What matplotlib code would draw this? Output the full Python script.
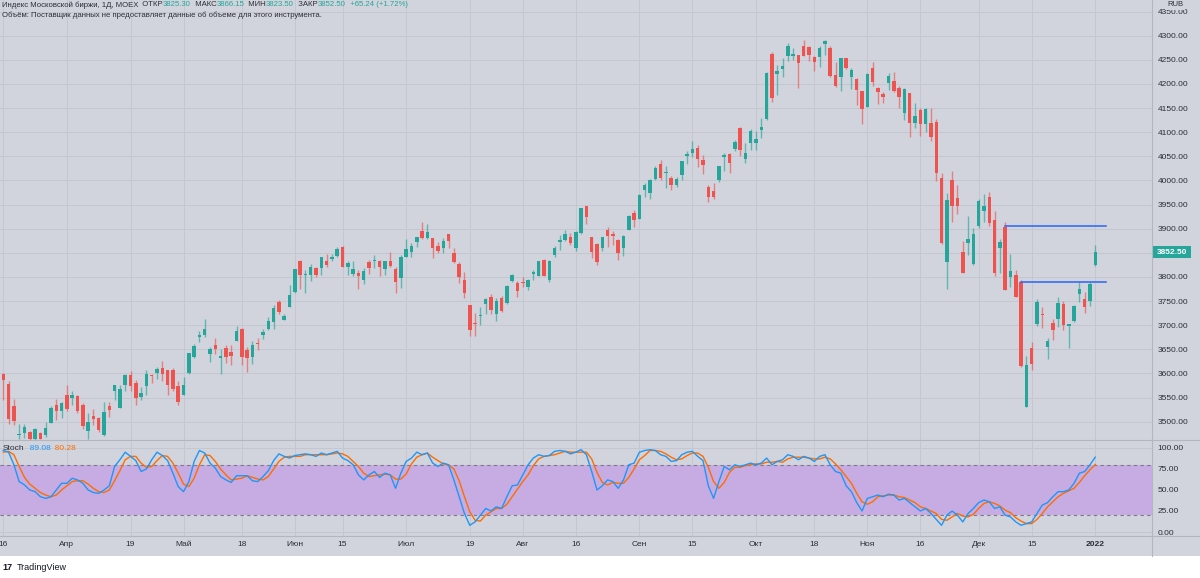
import matplotlib
matplotlib.use("Agg")
import matplotlib.pyplot as plt
from matplotlib.patches import Rectangle
from matplotlib.lines import Line2D
import numpy as np
import pandas as pd

plt.rcParams['font.family'] = ['Liberation Sans', 'DejaVu Sans']

W, H = 1200, 578
BG = '#d1d4dc'
UP = '#26a69a'
DN = '#ef5350'
TXT = '#2a2e39'
GRID = '#c4c7cf'
SEP = '#b3b6be'
K_COL = '#2196f3'
D_COL = '#ff6d00'

# MOEX trading days, 16 Mar 2021 - 3 Jan 2022
days = pd.bdate_range('2021-03-16', '2022-01-03')
closed = pd.to_datetime(['2021-06-14', '2021-11-04', '2021-12-31'])
days = days[~days.isin(closed)]

opens = [3599, 3578, 3532, 3472, 3477, 3479, 3464, 3476, 3472, 3498,
         3535, 3523, 3555, 3550, 3553, 3534, 3481, 3512, 3508, 3472,
         3533, 3564, 3529, 3576, 3597, 3580, 3551, 3574, 3597, 3600,
         3612, 3607, 3608, 3573, 3555, 3600, 3635, 3676, 3680, 3640,
         3658, 3633, 3653, 3644, 3667, 3693, 3649, 3635, 3664, 3680,
         3693, 3706, 3749, 3711, 3737, 3769, 3833, 3805, 3805, 3819,
         3819, 3834, 3837, 3843, 3863, 3820, 3806, 3809, 3794, 3830,
         3834, 3833, 3816, 3833, 3816, 3797, 3841, 3852, 3872, 3895,
         3880, 3880, 3864, 3861, 3888, 3850, 3826, 3794, 3742, 3705,
         3718, 3744, 3759, 3723, 3756, 3745, 3792, 3787, 3790, 3780,
         3806, 3802, 3835, 3794, 3845, 3873, 3877, 3882, 3861, 3892,
         3947, 3882, 3868, 3861, 3897, 3890, 3877, 3861, 3897, 3932,
         3921, 3981, 3973, 4002, 4035, 4016, 4006, 3990, 4011, 4051,
         4057, 4068, 4042, 3987, 3979, 4000, 4048, 4054, 4066, 4108,
         4044, 4078, 4077, 4105, 4127, 4263, 4221, 4232, 4257, 4257,
         4259, 4279, 4276, 4255, 4255, 4283, 4275, 4219, 4215, 4253,
         4215, 4210, 4185, 4153, 4234, 4191, 4179, 4203, 4207, 4192,
         4139, 4181, 4120, 4147, 4118, 4120, 4122, 4006, 3830, 4001,
         3963, 3852, 3870, 3826, 3906, 3937, 3966, 3917, 3859, 3904,
         3799, 3805, 3789, 3531, 3652, 3702, 3722, 3655, 3704, 3713,
         3744, 3698, 3709, 3765, 3754, 3751, 3825.30]
highs = [3601, 3584, 3548, 3495, 3496, 3481, 3487, 3479, 3499, 3533,
         3548, 3541, 3576, 3564, 3555, 3538, 3517, 3526, 3510, 3540,
         3541, 3576, 3576, 3599, 3604, 3586, 3571, 3607, 3599, 3614,
         3626, 3608, 3611, 3584, 3593, 3643, 3662, 3688, 3712, 3655,
         3673, 3650, 3659, 3658, 3698, 3695, 3655, 3667, 3674, 3692,
         3716, 3742, 3752, 3723, 3783, 3816, 3836, 3814, 3826, 3821,
         3842, 3847, 3848, 3863, 3864, 3832, 3832, 3814, 3818, 3835,
         3845, 3836, 3833, 3852, 3821, 3845, 3878, 3870, 3883, 3913,
         3910, 3881, 3873, 3881, 3890, 3861, 3830, 3811, 3742, 3725,
         3738, 3756, 3765, 3756, 3761, 3783, 3806, 3792, 3799, 3796,
         3814, 3834, 3837, 3835, 3864, 3887, 3897, 3892, 3895, 3943,
         3948, 3883, 3870, 3883, 3904, 3895, 3878, 3887, 3928, 3939,
         3971, 3995, 4002, 4029, 4042, 4030, 4009, 4008, 4040, 4060,
         4082, 4073, 4053, 3991, 3994, 4030, 4057, 4057, 4084, 4111,
         4077, 4106, 4103, 4130, 4224, 4267, 4239, 4253, 4284, 4274,
         4261, 4291, 4279, 4257, 4279, 4291, 4279, 4246, 4254, 4254,
         4234, 4212, 4185, 4222, 4245, 4194, 4184, 4222, 4225, 4196,
         4191, 4182, 4160, 4150, 4150, 4150, 4127, 4015, 3973, 4020,
         3990, 3875, 3927, 3901, 3961, 3972, 3976, 3936, 3878, 3914,
         3847, 3814, 3794, 3636, 3666, 3754, 3738, 3674, 3712, 3759,
         3751, 3702, 3741, 3790, 3768, 3790, 3866.15]
lows = [3545, 3496, 3493, 3465, 3467, 3462, 3462, 3464, 3469, 3497,
        3504, 3508, 3523, 3535, 3517, 3484, 3465, 3493, 3479, 3470,
        3509, 3545, 3528, 3564, 3564, 3535, 3545, 3555, 3580, 3588,
        3585, 3555, 3564, 3535, 3555, 3599, 3633, 3666, 3675, 3624,
        3640, 3599, 3622, 3618, 3667, 3618, 3602, 3620, 3649, 3671,
        3691, 3693, 3723, 3711, 3737, 3767, 3776, 3766, 3792, 3799,
        3804, 3821, 3832, 3842, 3821, 3803, 3801, 3775, 3785, 3807,
        3819, 3801, 3804, 3821, 3767, 3778, 3841, 3842, 3863, 3878,
        3878, 3839, 3849, 3849, 3861, 3828, 3788, 3756, 3678, 3678,
        3700, 3723, 3723, 3709, 3728, 3744, 3789, 3759, 3780, 3772,
        3794, 3801, 3801, 3789, 3842, 3856, 3875, 3866, 3854, 3890,
        3910, 3840, 3825, 3854, 3863, 3866, 3836, 3843, 3897, 3903,
        3920, 3966, 3961, 4001, 4001, 3984, 3981, 3986, 4001, 4035,
        4049, 4028, 4013, 3955, 3961, 3997, 4020, 4016, 4062, 4051,
        4037, 4063, 4063, 4089, 4125, 4163, 4178, 4215, 4248, 4250,
        4191, 4257, 4248, 4226, 4236, 4260, 4214, 4194, 4185, 4232,
        4190, 4156, 4116, 4152, 4196, 4158, 4160, 4187, 4183, 4151,
        4125, 4091, 4109, 4093, 4101, 4082, 3999, 3868, 3775, 3913,
        3931, 3808, 3845, 3825, 3901, 3913, 3906, 3801, 3809, 3772,
        3780, 3758, 3613, 3531, 3607, 3699, 3695, 3629, 3669, 3697,
        3690, 3652, 3707, 3749, 3726, 3740, 3823.50]
closes = [3586, 3505, 3502, 3474, 3488, 3464, 3484, 3465, 3487, 3528,
          3522, 3539, 3526, 3555, 3523, 3491, 3499, 3505, 3483, 3521,
          3524, 3575, 3567, 3597, 3573, 3550, 3560, 3599, 3595, 3609,
          3599, 3576, 3567, 3541, 3575, 3642, 3656, 3680, 3693, 3651,
          3650, 3636, 3635, 3637, 3687, 3635, 3633, 3659, 3660, 3686,
          3709, 3736, 3728, 3720, 3763, 3816, 3803, 3807, 3820, 3805,
          3842, 3825, 3841, 3858, 3821, 3828, 3816, 3801, 3812, 3819,
          3835, 3821, 3832, 3823, 3790, 3841, 3857, 3864, 3882, 3881,
          3894, 3859, 3854, 3874, 3874, 3830, 3799, 3767, 3691, 3702,
          3721, 3754, 3732, 3750, 3730, 3781, 3803, 3770, 3787, 3794,
          3810, 3833, 3802, 3834, 3861, 3877, 3888, 3871, 3894, 3942,
          3924, 3852, 3830, 3882, 3885, 3885, 3849, 3885, 3926, 3917,
          3970, 3990, 4001, 4026, 4006, 4017, 3990, 4002, 4040, 4055,
          4065, 4044, 4032, 3966, 3966, 4030, 4053, 4037, 4080, 4063,
          4057, 4102, 4086, 4111, 4222, 4170, 4227, 4237, 4279, 4263,
          4243, 4258, 4260, 4246, 4275, 4288, 4217, 4196, 4253, 4234,
          4229, 4188, 4148, 4221, 4205, 4183, 4172, 4217, 4185, 4172,
          4189, 4120, 4134, 4118, 4148, 4091, 4015, 3870, 3959, 3947,
          3946, 3809, 3878, 3890, 3958, 3946, 3911, 3809, 3872, 3772,
          3813, 3758, 3616, 3617, 3620, 3749, 3721, 3667, 3690, 3745,
          3700, 3702, 3740, 3776, 3738, 3785, 3852.50]

# Stochastic (%K blue, %D orange)
stoch_k = [97, 95, 80, 60, 56, 50, 48, 42, 40, 42,
           50, 58, 58, 64, 62, 58, 50, 47, 46, 50,
           55, 78, 86, 95, 90, 85, 72, 75, 86, 95,
           91, 85, 70, 54, 48, 60, 84, 97, 94, 82,
           76, 66, 62, 59, 67, 67, 67, 61, 60, 66,
           73, 85, 93, 90, 88, 91, 92, 93, 92, 90,
           94, 92, 94, 96, 88, 85, 80, 68, 62, 68,
           72, 65, 70, 68, 52, 70, 84, 88, 95, 92,
           94, 82, 78, 82, 80, 62, 42, 22, 8, 12,
           20, 28, 25, 30, 28, 42, 55, 56, 68, 80,
           88, 92, 90, 91, 96, 97, 96, 93, 95, 98,
           92, 72, 50, 55, 62, 60, 52, 62, 80, 82,
           95, 97, 98, 97, 92, 90, 84, 85, 92, 95,
           96, 90, 85, 55, 40, 60, 78, 74, 80, 78,
           80, 82, 80, 82, 88, 80, 84, 86, 92, 90,
           86, 90, 88, 84, 90, 92, 80, 72, 70, 55,
           48, 35, 25, 40, 42, 44, 42, 45, 44, 38,
           40, 35, 30, 25, 28, 22, 15, 8, 20, 25,
           20, 12, 22, 28, 35, 38, 36, 28, 30, 20,
           18, 12, 8, 10, 12, 22, 32, 35, 42, 48,
           48, 50, 58, 70, 72, 80, 89.08]
stoch_d = [95, 96, 92, 78, 65, 57, 52, 47, 44, 42,
           44, 50, 55, 60, 61, 61, 57, 52, 48, 47,
           50, 61, 73, 86, 90, 90, 82, 77, 78, 85,
           91, 90, 82, 70, 57, 54, 64, 80, 92, 91,
           84, 75, 68, 62, 63, 64, 67, 65, 63, 62,
           66, 75, 84, 89, 90, 90, 90, 92, 92, 92,
           92, 92, 93, 94, 93, 90, 84, 78, 70, 66,
           67, 68, 69, 68, 63, 63, 69, 81, 89, 92,
           94, 89, 85, 81, 80, 75, 61, 42, 24, 14,
           13, 20, 24, 28, 28, 33, 42, 51, 60, 68,
           79, 87, 90, 91, 92, 94, 96, 95, 95, 95,
           95, 87, 71, 59, 56, 59, 58, 58, 65, 75,
           86, 91, 97, 97, 96, 93, 89, 86, 87, 91,
           94, 94, 90, 77, 60, 52, 59, 71, 77, 77,
           79, 80, 81, 81, 83, 83, 84, 83, 87, 89,
           89, 89, 88, 87, 87, 89, 87, 81, 74, 66,
           58, 46, 36, 33, 36, 42, 43, 44, 44, 42,
           41, 38, 35, 30, 28, 25, 22, 15, 14, 18,
           22, 19, 18, 21, 28, 34, 36, 34, 31, 26,
           23, 17, 13, 10, 10, 15, 22, 30, 36, 42,
           46, 49, 52, 59, 67, 74, 80.28]

# horizontal levels drawn on the chart: (price, first bar, last bar)
level_prices = [3906, 3790]
level_start = [189, 192]
level_end = [208, 208]

tick_dates = ['2021-03-16', '2021-04-01', '2021-04-19', '2021-05-03', '2021-05-18',
              '2021-06-01', '2021-06-15', '2021-07-01', '2021-07-19', '2021-08-02',
              '2021-08-16', '2021-09-01', '2021-09-15', '2021-10-01', '2021-10-18',
              '2021-11-01', '2021-11-16', '2021-12-01', '2021-12-15', '2022-01-03']
tick_labels = ['16', 'Апр', '19', 'Май', '18', 'Июн', '15', 'Июл', '19', 'Авг',
               '16', 'Сен', '15', 'Окт', '18', 'Ноя', '16', 'Дек', '15', '2022']
price_ticks = np.arange(3500, 4351, 50)
stoch_ticks = [0, 25, 50, 75, 100]

fig = plt.figure(figsize=(W / 100, H / 100), dpi=100, facecolor=BG)


def fy(px):
    return 1 - px / H


ax = fig.add_axes([0, fy(440), 1152 / W, 440 / H], facecolor=BG)
ax2 = fig.add_axes([0, fy(536), 1152 / W, 96 / H], facecolor=BG)

x = np.arange(len(closes))
o = np.array(opens)
c = np.array(closes)
cols = np.where(c >= o, UP, DN)
ax.vlines(x, lows, highs, colors=cols, lw=1.0, alpha=0.65, zorder=2)
body_lo = np.minimum(o, c)
body_h = np.maximum(np.abs(c - o), 1.8)
ax.bar(x, body_h, bottom=body_lo, width=0.66, color=cols, linewidth=0, zorder=3)

for p, s, e in zip(level_prices, level_start, level_end):
    ax.plot([s, e], [p, p], color='#2962ff', lw=1.1, zorder=4)

xlim = (-0.62, 216.7)
tick_pos = days.get_indexer(pd.to_datetime(tick_dates))

ax.set_xlim(*xlim)
ax.set_ylim(3462, 4374)
ax.set_xticks(tick_pos)
ax.set_yticks(price_ticks)
ax.set_yticklabels([f'{v:.2f}' for v in price_ticks])
ax.yaxis.tick_right()
ax.tick_params(axis='x', length=0, labelbottom=False)
ax.tick_params(axis='y', length=0, pad=4, labelsize=6.0, labelcolor=TXT)
ax.grid(True, color=GRID, lw=0.7)
ax.set_axisbelow(True)

ax2.axhspan(20, 80, color='#c7abe3', lw=0, zorder=1)
ax2.axhline(80, color='#787b86', lw=0.8, ls=(0, (3, 3)), zorder=2)
ax2.axhline(20, color='#787b86', lw=0.8, ls=(0, (3, 3)), zorder=2)
ax2.plot(x, stoch_d, color=D_COL, lw=1.0, zorder=3)
ax2.plot(x, stoch_k, color=K_COL, lw=1.0, zorder=4)
ax2.set_xlim(*xlim)
ax2.set_ylim(-4.76, 109.5)
ax2.set_yticks(stoch_ticks)
ax2.set_yticklabels([f'{v:.2f}' for v in stoch_ticks])
ax2.yaxis.tick_right()
ax2.set_xticks(tick_pos)
ax2.set_xticklabels(tick_labels)
ax2.tick_params(axis='x', length=0, pad=3.5, labelsize=6.0, labelcolor=TXT)
ax2.tick_params(axis='y', length=0, pad=4, labelsize=6.0, labelcolor=TXT)
ax2.get_xticklabels()[-1].set_fontweight('bold')
ax2.grid(True, color=GRID, lw=0.7)
ax2.set_axisbelow(True)

for a in (ax, ax2):
    for sp in a.spines.values():
        sp.set_visible(False)

# pane separators
fig.add_artist(Line2D([1152 / W, 1152 / W], [fy(556), 1], color=SEP, lw=0.8))
fig.add_artist(Line2D([0, 1], [fy(440), fy(440)], color=SEP, lw=0.8))
fig.add_artist(Line2D([0, 1], [fy(536), fy(536)], color=SEP, lw=0.8))

# white footer
fig.add_artist(Rectangle((0, 0), 1, 22 / H, transform=fig.transFigure,
                         facecolor='white', edgecolor='none'))
fig.text(2 / W, fy(567), '17', fontsize=6.5, fontweight='bold', color='#131722', va='center')
fig.text(17 / W, fy(567), 'TradingView', fontsize=6.5, color='#131722', va='center')

# last price tag
fig.add_artist(Rectangle((1153 / W, fy(258)), 38 / W, 12 / H, transform=fig.transFigure,
                         facecolor=UP, edgecolor='none'))
fig.text(1172 / W, fy(252), '3852.50', fontsize=6.0, color='white', ha='center', va='center',
         fontweight='bold')

fig.text(1175 / W, fy(5), 'RUB', fontsize=5.5, color=TXT, ha='center', va='center',
         bbox=dict(facecolor=BG, edgecolor='none', pad=1.2))

renderer = fig.canvas.get_renderer()


def segments(x0, ypx, parts, size):
    xp = x0
    for s, col in parts:
        t = fig.text(xp / W, fy(ypx), s, fontsize=size, color=col, va='center', ha='left')
        xp += t.get_window_extent(renderer).width


segments(2, 5, [('Индекс Московской биржи, 1Д, MOEX', TXT), ('  ОТКР', TXT), ('3825.30', UP),
                ('  МАКС', TXT), ('3866.15', UP), ('  МИН', TXT), ('3823.50', UP),
                ('  ЗАКР', TXT), ('3852.50', UP), ('  +65.24 (+1.72%)', UP)], 5.6)
segments(2, 15, [('Объём: Поставщик данных не предоставляет данные об объеме для этого инструмента.', TXT)], 5.6)
segments(3, 449, [('Stoch', TXT), ('  89.08', K_COL), ('  80.28', D_COL)], 6.0)

fig.savefig('out.png', dpi=100, facecolor=BG)
